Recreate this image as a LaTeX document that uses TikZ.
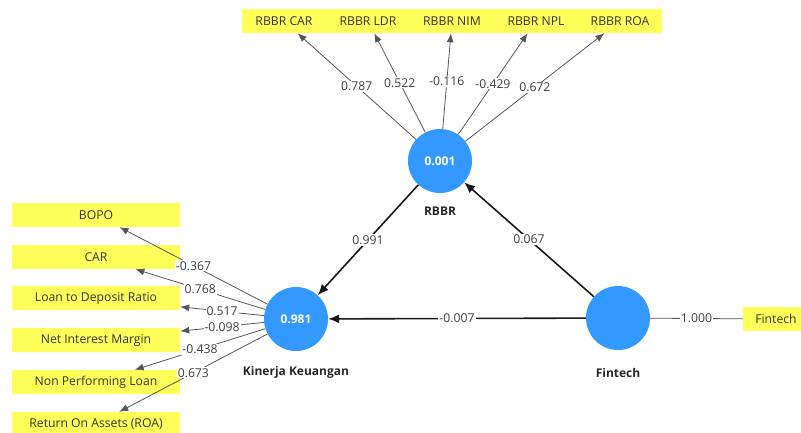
\documentclass[tikz,border=0pt]{standalone}
\usepackage{fontspec}
\setmainfont{Open Sans}
\usetikzlibrary{positioning,arrows.meta}
\definecolor{plsblue}{RGB}{51,153,255}
\definecolor{plsyellow}{RGB}{255,255,90}
\definecolor{linegray}{RGB}{85,85,85}
\definecolor{textgray}{RGB}{60,60,60}

\begin{document}
\begin{tikzpicture}[>={Latex[length=9pt, width=7pt]}, x=1pt, y=-1pt,
    lv/.style={circle, fill=plsblue, minimum size=64pt, inner sep=0pt, text=white, font=\fontsize{12}{14}\selectfont\bfseries},
    lvname/.style={font=\fontsize{12}{14}\selectfont\bfseries, text=black!85},
    ind/.style={fill=plsyellow, minimum width=168pt, minimum height=24pt, inner sep=0pt, text=black!80, font=\fontsize{12.2}{14}\selectfont},
    rind/.style={ind, minimum width=84pt},
    inner/.style={-{Latex[length=11pt, width=9pt]}, line width=1.6pt, black!90},
    load/.style={->, draw=linegray, line width=0.8pt},
    coef/.style={fill=white, inner sep=1pt, text=textgray, font=\fontsize{12.2}{14}\selectfont}]

    \useasboundingbox (0,0) rectangle (801,432);

            % constructs
            \draw(440,161) node[lv] (rbbr) {0.001};
            \draw(296,319) node[lv] (kk) {0.981};
            \draw(618,318) node[lv] (ft) {};
            \draw(440,211) node[lvname] {RBBR};
            \draw(296,372) node[lvname] {Kinerja Keuangan};
            \draw(618,373) node[lvname] {Fintech};

            % RBBR indicators
            \draw(284,21) node[rind] (r1) {RBBR CAR};
            \draw(368,21) node[rind] (r2) {RBBR LDR};
            \draw(452,21) node[rind] (r3) {RBBR NIM};
            \draw(536,21) node[rind] (r4) {RBBR NPL};
            \draw(620,21) node[rind] (r5) {RBBR ROA};
            \draw[load] (rbbr) -- (r1) node[midway, coef] {0.787};
            \draw[load] (rbbr) -- (r2) node[midway, coef] {0.522};
            \draw[load] (rbbr) -- (r3) node[midway, coef] {-0.116};
            \draw[load] (rbbr) -- (r4) node[midway, coef] {-0.429};
            \draw[load] (rbbr) -- (r5) node[midway, coef] {0.672};

            % Kinerja Keuangan indicators
            \draw(96,215) node[ind] (k1) {BOPO};
            \draw(96,257) node[ind] (k2) {CAR};
            \draw(96,298) node[ind] (k3) {Loan to Deposit Ratio};
            \draw(96,340) node[ind] (k4) {Net Interest Margin};
            \draw(96,382) node[ind] (k5) {Non Performing Loan};
            \draw(96,424) node[ind] (k6) {Return On Assets (ROA)};
            \draw[load] (kk) -- (k1) node[midway, coef] {-0.367};
            \draw[load] (kk) -- (k2) node[midway, coef] {0.768};
            \draw[load] (kk) -- (k3) node[midway, coef] {0.517};
            \draw[load] (kk) -- (k4) node[midway, coef] {-0.098};
            \draw[load] (kk) -- (k5) node[midway, coef] {-0.438};
            \draw[load] (kk) -- (k6) node[midway, coef] {0.673};

            % Fintech indicator
            \draw(776,319) node[ind, minimum width=66pt] (f1) {Fintech};
            \draw[draw=linegray, line width=0.8pt] (ft) -- (f1) node[midway, coef] {1.000};

            % structural paths
            \draw[inner] (rbbr) -- (kk) node[midway, coef] {0.991};
            \draw[inner] (ft) -- (rbbr) node[midway, coef] {0.067};
            \draw[inner] (ft) -- (kk) node[midway, coef] {-0.007};

        \end{tikzpicture}
\end{document}
